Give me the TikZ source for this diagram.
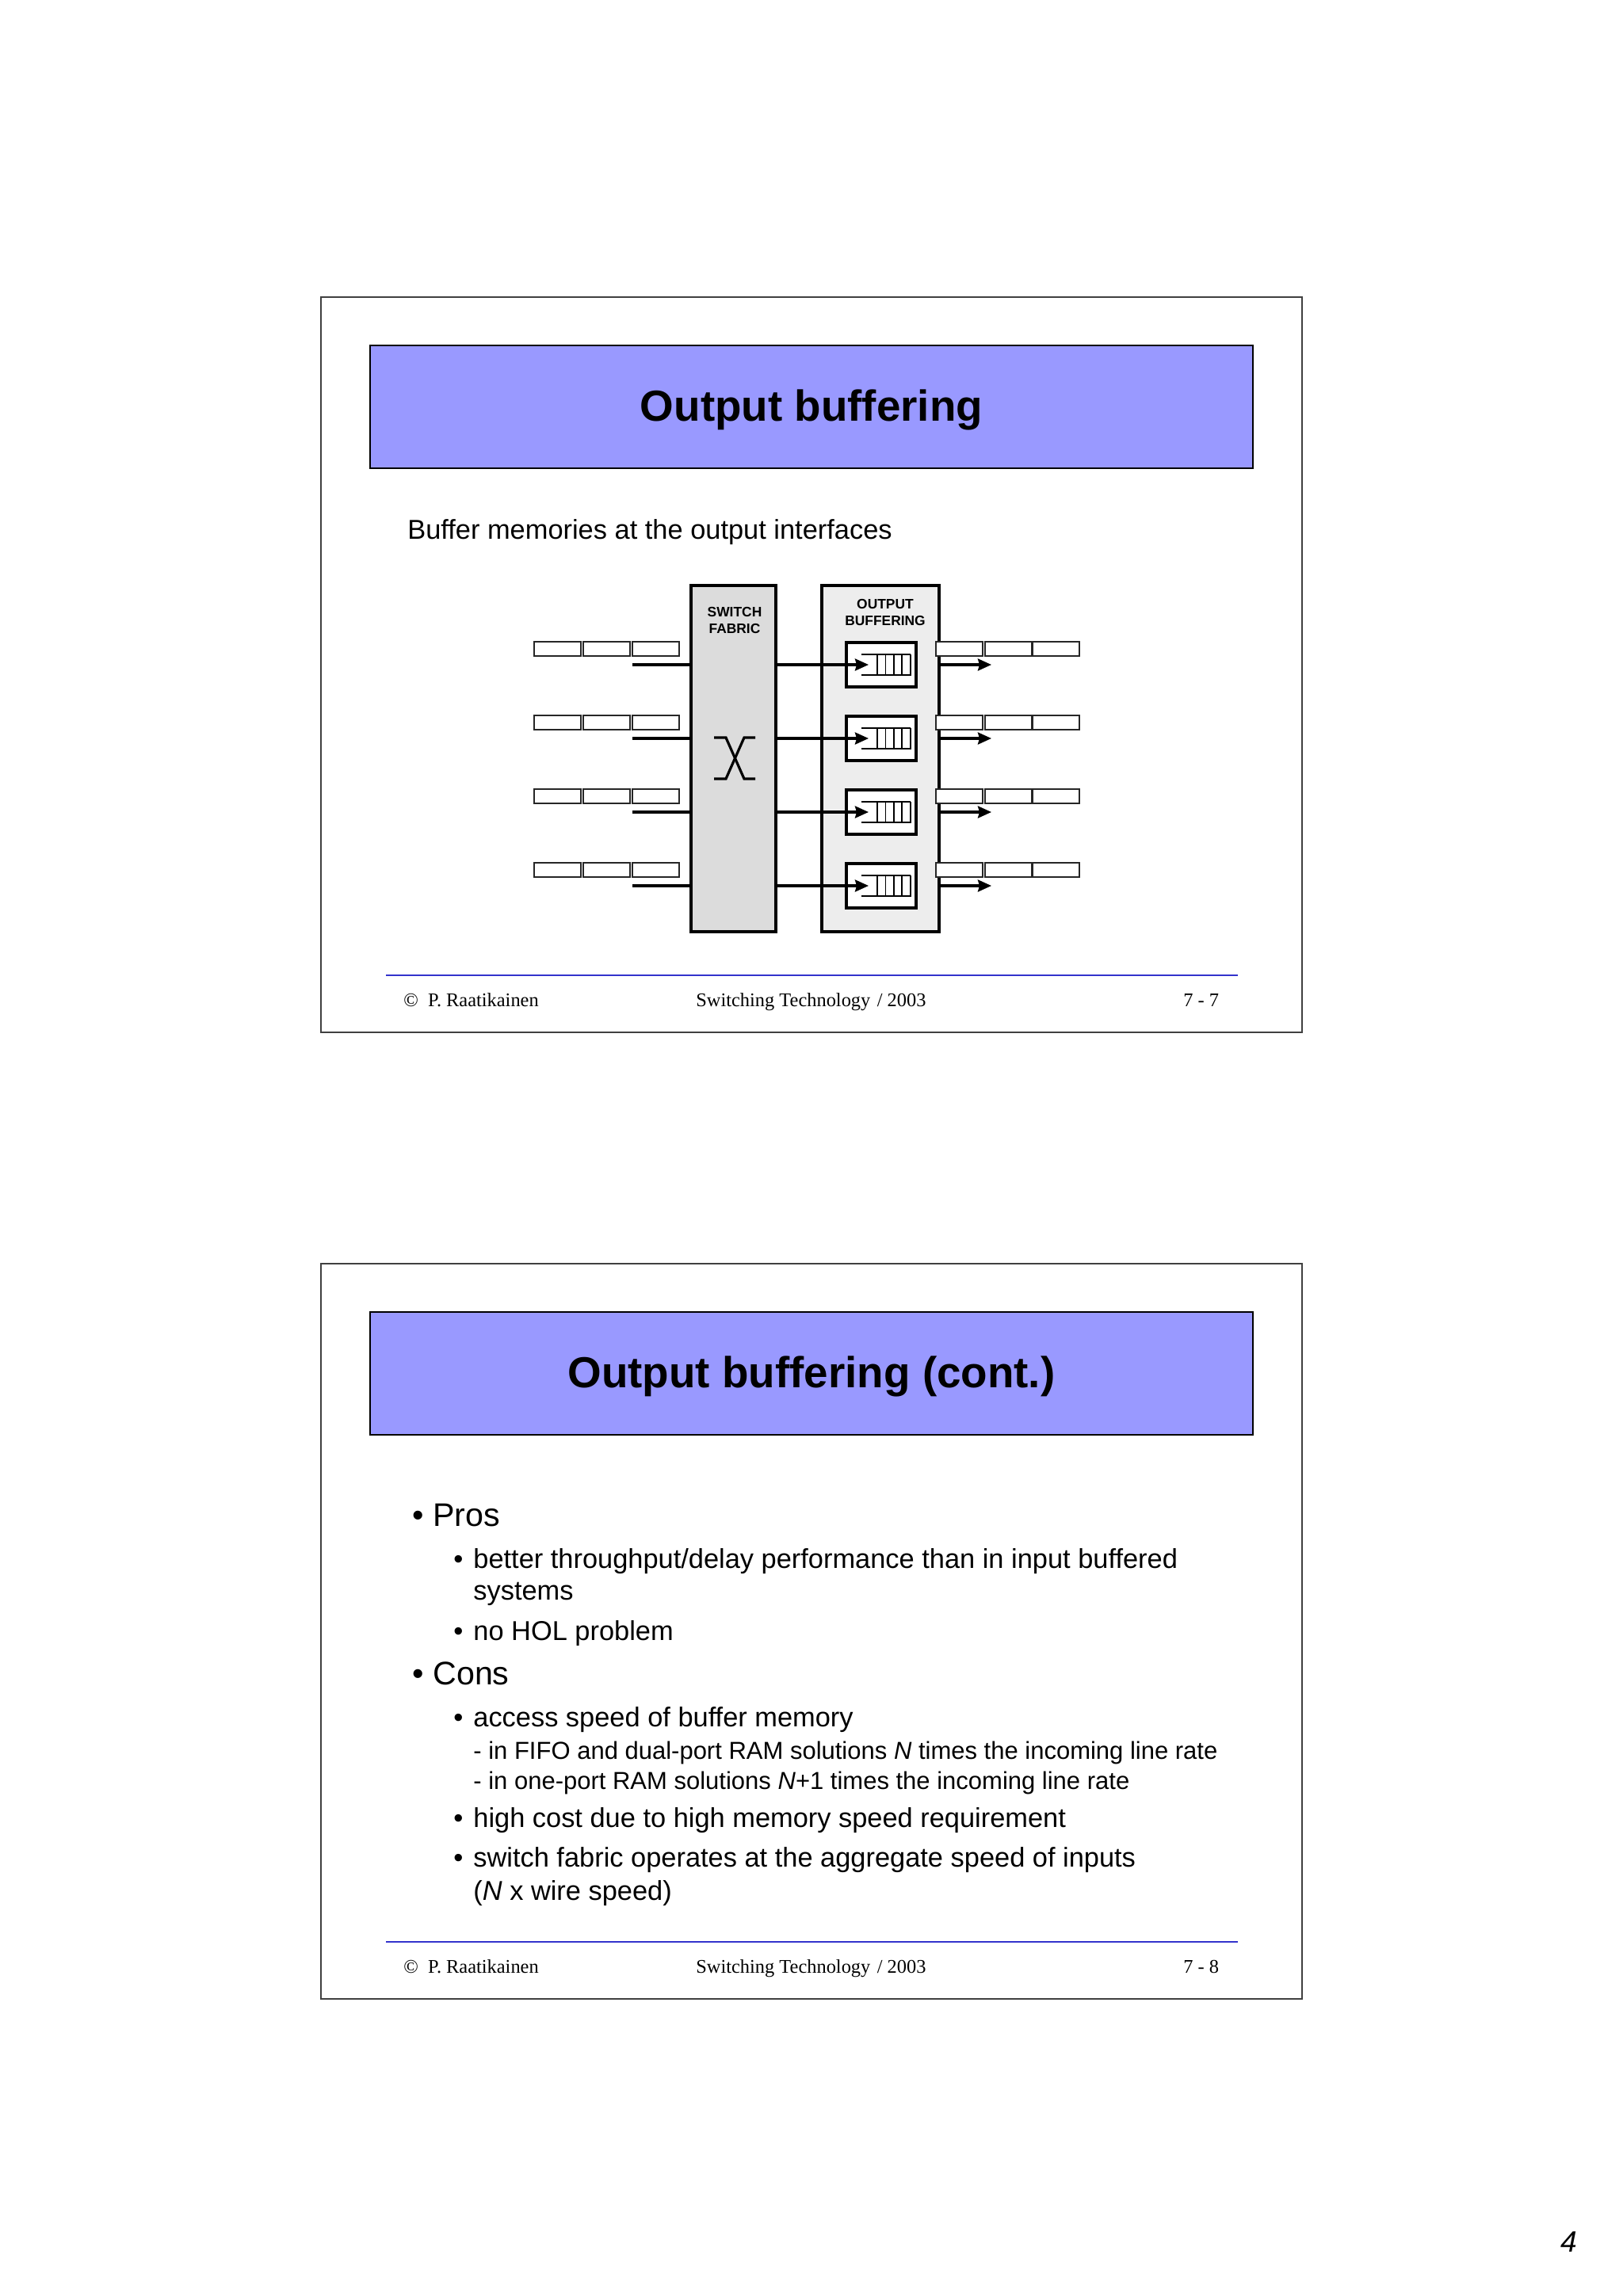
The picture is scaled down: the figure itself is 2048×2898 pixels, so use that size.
\documentclass[tikz,border=0pt]{standalone}
\usepackage{fontspec}
\setmainfont{Liberation Sans}
\newfontfamily\serifft{Liberation Serif}
\usetikzlibrary{arrows.meta}
\definecolor{titleblue}{HTML}{9999FF}
\definecolor{fabricgray}{HTML}{DCDCDC}
\definecolor{buffgray}{HTML}{EDEDED}
\definecolor{footblue}{HTML}{3333CC}
\definecolor{framegray}{HTML}{404040}
\tikzset{
  x=0.5pt,y=-0.5pt,
  frame/.style={draw=framegray,line width=0.95pt,fill=white,inner sep=0pt,outer sep=0pt,minimum width=619pt,minimum height=464pt,anchor=north west},
  titlebox/.style={draw=black,line width=0.6pt,fill=titleblue,inner sep=0pt,outer sep=0pt,minimum width=557pt,minimum height=77.5pt,anchor=north west},
  titletext/.style={inner sep=0pt,font=\bfseries\fontsize{27.4}{30}\selectfont,anchor=center,yshift=-1.8pt},
  foot/.style={inner sep=0pt,anchor=base west,font=\serifft\fontsize{12.2}{14}\selectfont},
  body/.style={inner sep=0pt,anchor=base west,font=\fontsize{17.2}{21}\selectfont},
  sub/.style={inner sep=0pt,anchor=base west,font=\fontsize{17.2}{21}\selectfont},
  top/.style={inner sep=0pt,anchor=base west,font=\fontsize{20.6}{24}\selectfont},
  small/.style={inner sep=0pt,anchor=base west,font=\fontsize{15.5}{18}\selectfont},
  block/.style={draw=black,line width=1.6pt,inner sep=0pt,outer sep=0pt,minimum height=218.5pt,anchor=north west},
  lbl/.style={inner sep=0pt,align=center,font=\bfseries\fontsize{8.7}{10}\selectfont},
  cell/.style={draw=black!85,line width=0.7pt,fill=white,inner sep=0pt,outer sep=0pt,minimum width=29.5pt,minimum height=9pt,anchor=north west},
  qbox/.style={draw=black,line width=1.6pt,fill=white,inner sep=0pt,outer sep=0pt,minimum width=44pt,minimum height=28pt,anchor=north west},
  wire/.style={draw=black,line width=1.6pt},
  arrowwire/.style={wire,-{Stealth[length=8.5pt,width=7.5pt,inset=1pt]}},
  rail/.style={draw=black,line width=0.9pt},
  footrule/.style={draw=footblue,line width=0.8pt},
}
\begin{document}
\begin{tikzpicture}
\useasboundingbox (0,0) rectangle (2048,2898);
\fill[white] (0,0) rectangle (2048,2898);

%% Slide 1
\node[frame] (fr1) at (405,375) {};
\node[titlebox] (tb1) at (467,436) {};
\node[titletext] (tt1) at (tb1.center) {Output buffering};
\node[body] (intro) at (514,680) {Buffer memories at the output interfaces};

\node[block,fill=fabricgray,minimum width=53.5pt] (sw) at (872,739) {};
\node[block,fill=buffgray,minimum width=74pt] (ob) at (1037,739) {};
\node[lbl] (swl) at (927,783) {SWITCH\\[0.2pt]FABRIC};
\node[lbl] (obl) at (1117,773) {OUTPUT\\[0.2pt]BUFFERING};

\coordinate (xa) at (901,931); \coordinate (xb) at (916,931);
\coordinate (xc) at (939,983); \coordinate (xd) at (953,983);
\coordinate (xe) at (953,931); \coordinate (xf) at (939,931);
\coordinate (xg) at (916,983); \coordinate (xh) at (901,983);
\draw[wire] (xa) -- (xb) -- (xc) -- (xd);
\draw[wire] (xe) -- (xf) -- (xg) -- (xh);

\foreach \r/\yy in {1/810,2/903,3/996,4/1089}{
  \node[cell] (ia\r) at (674,\yy) {};
  \node[cell] (ib\r) at (736,\yy) {};
  \node[cell] (ic\r) at (798,\yy) {};
  \coordinate (is\r) at (798,\yy+29);
  \draw[wire] (is\r) -- (is\r -| sw.west);
  \node[qbox] (q\r) at (1068,\yy+1) {};
  \coordinate (qt\r) at (1096,\yy+29);
  \draw[arrowwire] (qt\r -| sw.east) -- (qt\r);
  \coordinate (ra\r) at (1087,\yy+16);
  \coordinate (rb\r) at (1149,\yy+16);
  \coordinate (rc\r) at (1087,\yy+42);
  \coordinate (rd\r) at (1149,\yy+42);
  \draw[rail] (ra\r) -- (rb\r);
  \draw[rail] (rc\r) -- (rd\r);
  \foreach \b in {1107,1117.5,1128,1138,1149}{
    \draw[rail] (\b,\yy+16) -- (\b,\yy+43);
  }
  \node[cell] (oa\r) at (1181,\yy) {};
  \node[cell] (ob\r) at (1243,\yy) {};
  \node[cell] (oc\r) at (1303,\yy) {};
  \coordinate (ot\r) at (1251,\yy+29);
  \draw[arrowwire] (ot\r -| ob.east) -- (ot\r);
}

\coordinate (fl1) at (487,1231); \coordinate (fr1e) at (1562,1231);
\draw[footrule] (fl1) -- (fr1e);
\node[foot] (fa1) at (509,1270) {©\hspace{0.5em}P. Raatikainen};
\node[foot] (fb1) at (878,1270) {Switching Technology \hspace{0.1em}/ 2003};
\node[foot] (fc1) at (1493,1270) {7 - 7};

%% Slide 2
\node[frame] (fr2) at (405,1595) {};
\node[titlebox] (tb2) at (467,1656) {};
\node[titletext] (tt2) at (tb2.center) {Output buffering (cont.)};

\node[top] (b1) at (520,1926) {•};
\node[top] (t1) at (546,1926) {Pros};
\node[sub] (b2) at (572,1979) {•};
\node[sub] (t2) at (597,1979) {better throughput/delay performance than in input buffered};
\node[sub] (t3) at (597,2019) {systems};
\node[sub] (b4) at (572,2070) {•};
\node[sub] (t4) at (597,2070) {no HOL problem};
\node[top] (b5) at (520,2126) {•};
\node[top] (t5) at (546,2126) {Cons};
\node[sub] (b6) at (572,2179) {•};
\node[sub] (t6) at (597,2179) {access speed of buffer memory};
\node[small] (t7) at (597,2220) {- in FIFO and dual-port RAM solutions \textit{N} times the incoming line rate};
\node[small] (t8) at (597,2258) {- in one-port RAM solutions \textit{N}+1 times the incoming line rate};
\node[sub] (b9) at (572,2306) {•};
\node[sub] (t9) at (597,2306) {high cost due to high memory speed requirement};
\node[sub] (b10) at (572,2356) {•};
\node[sub] (t10) at (597,2356) {switch fabric operates at the aggregate speed of inputs};
\node[sub] (t11) at (597,2398) {(\textit{N} x wire speed)};

\coordinate (fl2) at (487,2451); \coordinate (fr2e) at (1562,2451);
\draw[footrule] (fl2) -- (fr2e);
\node[foot] (fa2) at (509,2490) {©\hspace{0.5em}P. Raatikainen};
\node[foot] (fb2) at (878,2490) {Switching Technology \hspace{0.1em}/ 2003};
\node[foot] (fc2) at (1493,2490) {7 - 8};

\node[inner sep=0pt,anchor=base west,font=\itshape\fontsize{18.6}{20}\selectfont] (pg) at (1969,2842) {4};
\end{tikzpicture}
\end{document}
